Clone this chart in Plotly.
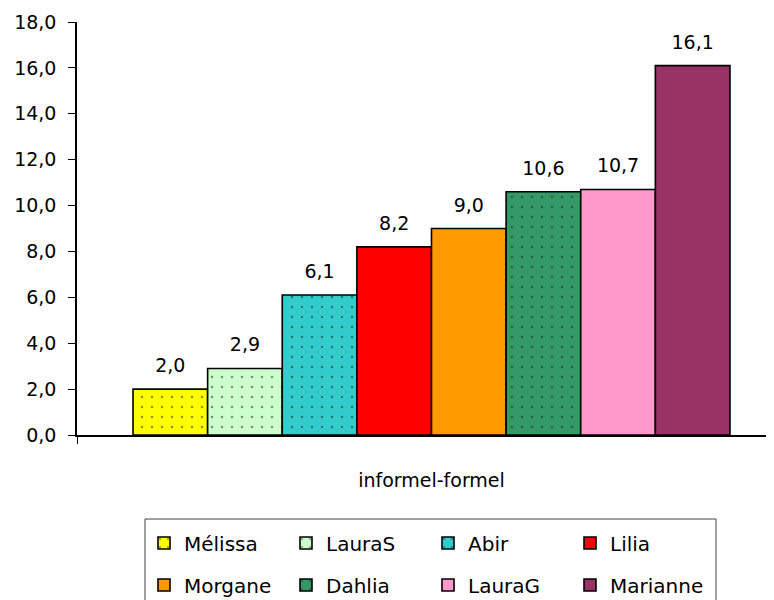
import plotly.graph_objects as go

categories = ["informel-formel"]
names = ["Mélissa", "LauraS", "Abir", "Lilia", "Morgane", "Dahlia", "LauraG", "Marianne"]
values = [2.0, 2.9, 6.1, 8.2, 9.0, 10.6, 10.7, 16.1]
colors = ["#FFFF00", "#CCFFCC", "#33CCCC", "#FF0000", "#FF9900", "#339966", "#FF99CC", "#993366"]
dotted = [True, True, True, False, False, True, False, False]
y_ticks = [0, 2, 4, 6, 8, 10, 12, 14, 16, 18]

FONT = "DejaVu Sans"
GAP = 0.158

fig = go.Figure()
for i, (n, v, c, d) in enumerate(zip(names, values, colors, dotted)):
    pattern = dict(shape=".", fgcolor="#222222", size=10, solidity=0.05) if d else dict(shape="")
    fig.add_trace(go.Bar(
        x=categories, y=[v], name=n, offsetgroup=str(i),
        marker=dict(color=c, line=dict(color="black", width=1.6), pattern=pattern),
        legend="legend" if i < 4 else "legend2",
        hoverinfo="skip",
    ))
for i, v in enumerate(values):
    fig.add_trace(go.Scatter(
        x=categories, y=[v], offsetgroup=str(i), mode="markers+text",
        marker=dict(size=18, opacity=0), text=[v], texttemplate="%{y:.1f}",
        textposition="top center", textfont=dict(family=FONT, size=19, color="black"),
        showlegend=False, cliponaxis=False, hoverinfo="skip",
    ))

# the page body has an 8px margin, so the figure is shifted by 8px
W, H = 766, 592
L, R, T, B = 69, 0, 14, 165
pw, ph = W - L - R, H - T - B

def px_x(p):
    return (p - L) / pw

def px_y(p):
    return (H - B - p) / ph

fig.update_layout(
    width=W, height=H,
    margin=dict(l=L, r=R, t=T, b=B, autoexpand=False),
    paper_bgcolor="white", plot_bgcolor="white",
    separators=",.",
    barmode="group", bargap=GAP, bargroupgap=0,
    scattermode="group", scattergap=GAP,
    font=dict(family=FONT, size=19, color="black"),
    xaxis=dict(type="category", range=[-0.5, 0.4831], showline=True, linecolor="black",
               linewidth=1.5, ticks="outside", tickson="boundaries", ticklen=7,
               tickcolor="black", showgrid=False, tickfont=dict(size=19),
               ticklabelstandoff=27),
    yaxis=dict(range=[0, 18], tickvals=y_ticks, tickformat=".1f", showline=True,
               linecolor="black", linewidth=1.5, ticks="outside", ticklen=7,
               tickcolor="black", showgrid=False, zeroline=False,
               ticklabelstandoff=8, tickfont=dict(size=19)),
    legend=dict(orientation="h", x=px_x(136), xanchor="left", y=px_y(535), yanchor="middle",
                entrywidth=97, entrywidthmode="pixels", font=dict(size=20),
                bgcolor="rgba(0,0,0,0)", traceorder="normal"),
    legend2=dict(orientation="h", x=px_x(136), xanchor="left", y=px_y(577), yanchor="middle",
                 entrywidth=97, entrywidthmode="pixels", font=dict(size=20),
                 bgcolor="rgba(0,0,0,0)", traceorder="normal"),
    shapes=[dict(type="rect", xref="paper", yref="paper",
                 x0=px_x(137), x1=px_x(708), y0=px_y(511), y1=px_y(602),
                 line=dict(color="#404040", width=1), fillcolor="rgba(0,0,0,0)")],
    showlegend=True,
)

fig.write_html("out.html")
